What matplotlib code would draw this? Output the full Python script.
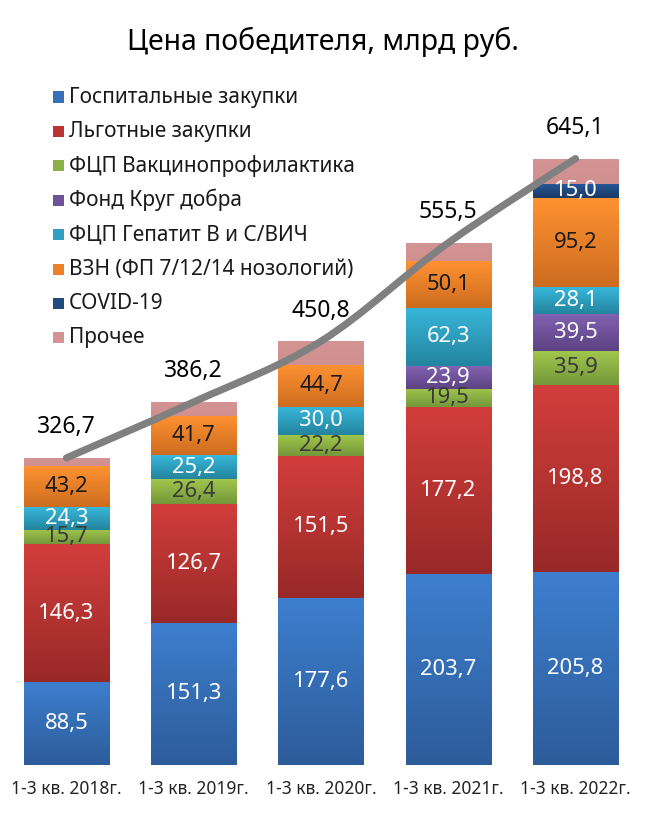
import numpy as np
import matplotlib
matplotlib.use('Agg')
import matplotlib.pyplot as plt
from matplotlib.colors import LinearSegmentedColormap
from matplotlib.patches import Rectangle, PathPatch
from matplotlib.path import Path

plt.rcParams['font.family'] = ['Noto Sans', 'DejaVu Sans']

periods = ['1-3 кв. 2018г.', '1-3 кв. 2019г.', '1-3 кв. 2020г.', '1-3 кв. 2021г.', '1-3 кв. 2022г.']
series_names = ['Госпитальные закупки', 'Льготные закупки', 'ФЦП Вакцинопрофилактика',
                'Фонд Круг добра', 'ФЦП Гепатит В и С/ВИЧ', 'ВЗН (ФП 7/12/14 нозологий)',
                'COVID-19', 'Прочее']
hospital = [88.5, 151.3, 177.6, 203.7, 205.8]
privileged = [146.3, 126.7, 151.5, 177.2, 198.8]
vaccine = [15.7, 26.4, 22.2, 19.5, 35.9]
krug_dobra = [0, 0, 0, 23.9, 39.5]
hepatitis_hiv = [24.3, 25.2, 30.0, 62.3, 28.1]
vzn = [43.2, 41.7, 44.7, 50.1, 95.2]
covid = [0, 0, 0, 0, 15.0]
other = [8.7, 14.9, 24.8, 18.8, 26.8]
totals = [326.7, 386.2, 450.8, 555.5, 645.1]

series = [hospital, privileged, vaccine, krug_dobra, hepatitis_hiv, vzn, covid, other]

# (top colour, bottom colour) for the vertical gradient
grad_colors = [('#3d7fcf', '#2d5c9a'), ('#d23e3b', '#982928'), ('#a0c64c', '#74973a'),
               ('#8262b2', '#5c4282'), ('#38b7db', '#23849e'), ('#ff9232', '#cd6c1f'),
               ('#27589a', '#1a3a66'), ('#d49494', '#d19090')]
legend_colors = ['#3670bb', '#bb3332', '#8bb043', '#6e529b', '#2fa0c1', '#ec7f29', '#204a80', '#d39393']
text_colors = ['white', 'white', '#3a3a3a', 'white', 'white', '#1a1a1a', 'white', None]

fig = plt.figure(figsize=(6.51, 8.26), dpi=100)
ax = fig.add_axes([0, 61 / 826, 1, 765 / 826])
for s in ax.spines.values():
    s.set_visible(False)
ax.set_yticks([])

x = np.arange(len(periods))
width = 0.668
grad = np.linspace(0, 1, 128).reshape(-1, 1)
bottom = np.zeros(len(periods))
for vals, (ctop, cbot), tc in zip(series, grad_colors, text_colors):
    vals = np.array(vals)
    bars = ax.bar(x, vals, width, bottom=bottom, color=ctop, linewidth=0, zorder=2)
    cmap = LinearSegmentedColormap.from_list('g', [cbot, ctop])
    for rect, v in zip(bars, vals):
        if v <= 0:
            continue
        x0, y0 = rect.get_x(), rect.get_y()
        im = ax.imshow(grad, extent=[x0, x0 + rect.get_width(), y0, y0 + rect.get_height()],
                       origin='lower', aspect='auto', cmap=cmap, zorder=2.1)
        im.set_clip_path(rect)
        if tc is not None:
            ax.text(x0 + rect.get_width() / 2, y0 + v / 2, f'{v:.1f}'.replace('.', ','),
                    ha='center', va='center', fontsize=15.8, color=tc, zorder=4)
    bottom += vals

ax.set_xlim(-66.5 / 127.25, (651 - 66.5) / 127.25)
ax.set_ylim(0, 765 / 0.94)

# smooth trend line through totals
pts = np.column_stack([x, totals]).astype(float)
ext = np.vstack([pts[0], pts, pts[-1]])
verts = [tuple(pts[0])]
codes = [Path.MOVETO]
for i in range(len(pts) - 1):
    p0, p1, p2, p3 = ext[i], ext[i + 1], ext[i + 2], ext[i + 3]
    c1 = p1 + (p2 - p0) / 6
    c2 = p2 - (p3 - p1) / 6
    verts += [tuple(c1), tuple(c2), tuple(p2)]
    codes += [Path.CURVE4] * 3
ax.add_patch(PathPatch(Path(verts, codes), facecolor='none', edgecolor='#808080',
                       lw=5.2, capstyle='round', zorder=3))

for xi, t in zip(x, totals):
    ax.annotate(f'{t:.1f}'.replace('.', ','), (xi, t), xytext=(0, 22), textcoords='offset points',
                ha='center', va='center', fontsize=16.5, color='black', zorder=5)

ax.set_xticks(x)
ax.set_xticklabels(periods, fontsize=12.5, color='#222222')
ax.tick_params(axis='x', length=0, pad=11)

fig.text(323 / 651, 1 - 42 / 826, 'Цена победителя, млрд руб.', ha='center', va='center',
         fontsize=20.5, color='black')

# legend
for i, (name, col) in enumerate(zip(series_names, legend_colors)):
    yc = 97 + 34.4 * i
    fig.add_artist(Rectangle((53 / 651, 1 - (yc + 5.5) / 826), 11 / 651, 11 / 826,
                             transform=fig.transFigure, color=col, lw=0))
    fig.text(69 / 651, 1 - yc / 826, name, ha='left', va='center', fontsize=15, color='#1a1a1a')

fig.savefig('out.png', dpi=100)
